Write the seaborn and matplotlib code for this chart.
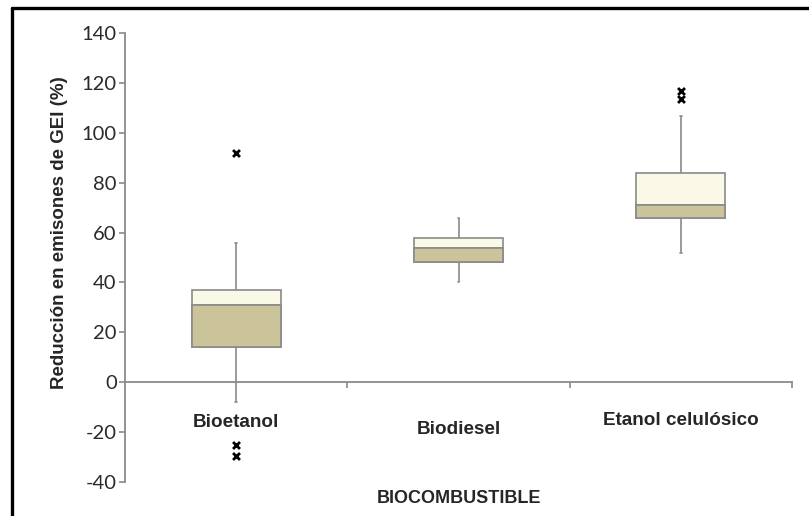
import numpy as np
import matplotlib.pyplot as plt
import matplotlib.transforms as mtransforms
from matplotlib.lines import Line2D
import pandas as pd
import seaborn as sns

CATEGORIAS = ["Bioetanol", "Biodiesel", "Etanol celulósico"]
BIGOTE_INF = [-8, 40.3, 51.7]
Q1 = [14.2, 48.3, 66]
MEDIANA = [30.8, 53.8, 71]
Q3 = [37, 57.7, 83.8]
BIGOTE_SUP = [56, 66, 106.8]

ATIPICOS_CAT = ["Bioetanol", "Bioetanol", "Bioetanol",
                "Etanol celulósico", "Etanol celulósico"]
ATIPICOS_VAL = [91.8, -25.0, -29.7, 116.9, 113.5]

COLOR_CLARO = "#faf8e6"
COLOR_OSCURO = "#cbc39a"
GRIS = "#8a8a8a"

# resumen de cinco numeros -> tabla larga (5 puntos dan los cuartiles exactos)
filas = []
for i, cat in enumerate(CATEGORIAS):
    for v in (BIGOTE_INF[i], Q1[i], MEDIANA[i], Q3[i], BIGOTE_SUP[i]):
        filas.append({"combustible": cat, "valor": v})
df = pd.DataFrame(filas)

sns.set_style("white")
plt.rcParams["font.family"] = ["Liberation Sans", "DejaVu Sans"]
plt.rcParams["axes.unicode_minus"] = False

fig = plt.figure(figsize=(8.09, 5.16), dpi=100)
ax = fig.add_axes([0.1545, 0.0659, 0.8245, 0.870])

sns.boxplot(data=df, x="combustible", y="valor", order=CATEGORIAS, ax=ax,
            whis=np.inf, width=0.4, color=COLOR_CLARO, saturation=1,
            linecolor=GRIS, linewidth=1.2, showfliers=False, capwidths=0.008)

# parte baja de la caja (Q1 -> mediana) en tono oscuro
sns.barplot(x=CATEGORIAS, y=np.subtract(MEDIANA, Q1), order=CATEGORIAS, ax=ax,
            bottom=Q1, width=0.4, color=COLOR_OSCURO, saturation=1,
            edgecolor=GRIS, linewidth=1.2, errorbar=None, zorder=2.5)

sns.stripplot(x=ATIPICOS_CAT, y=ATIPICOS_VAL, order=CATEGORIAS, ax=ax,
              jitter=False, marker="x", color="black", size=5, linewidth=2,
              zorder=4)

ax.set_xlim(-0.5, 2.5)
ax.set_ylim(-40, 140)
ax.set_yticks(np.arange(-40, 141, 20))

for s in ["top", "right"]:
    ax.spines[s].set_visible(False)
ax.spines["bottom"].set_position(("data", 0))
for s in ["left", "bottom"]:
    ax.spines[s].set_color(GRIS)
    ax.spines[s].set_linewidth(1.3)

ax.tick_params(axis="y", direction="out", length=4, width=1.2, color=GRIS,
               pad=2, labelsize=14.5, labelcolor="#2a2a2a", left=True)
for lab in ax.get_yticklabels():
    lab.set_family("Lato")

ax.set_xticks([0, 1, 2], CATEGORIAS)
ax.set_xticks([0.5, 1.5, 2.5], minor=True)
ax.tick_params(axis="x", which="major", length=0, pad=23, labelsize=13.6)
ax.tick_params(axis="x", which="minor", direction="out", length=4, width=1.2,
               color=GRIS, bottom=True)
for lab in ax.get_xticklabels():
    lab.set_fontweight("bold")
desplaz = [0, -7, 2]
for lab, d in zip(ax.get_xticklabels(), desplaz):
    lab.set_transform(lab.get_transform() +
                      mtransforms.ScaledTranslation(0, d / 100, fig.dpi_scale_trans))

ax.set_xlabel("BIOCOMBUSTIBLE", fontsize=13, fontweight="bold", va="top")
ax.xaxis.set_label_coords(0.5, -0.017)
ax.set_ylabel("Reducción en emisones de GEI (%)", fontsize=13.5, fontweight="bold")
ax.yaxis.set_label_coords(-0.085, 0.555)

# marco de la imagen original (solo arriba e izquierda)
fig.add_artist(Line2D([12 / 809, 12 / 809], [0, 1 - 8 / 516],
                      transform=fig.transFigure, color="black", lw=2.4))
fig.add_artist(Line2D([12 / 809, 1], [1 - 8 / 516, 1 - 8 / 516],
                      transform=fig.transFigure, color="black", lw=2.4))

fig.savefig("out.png", dpi=100)
